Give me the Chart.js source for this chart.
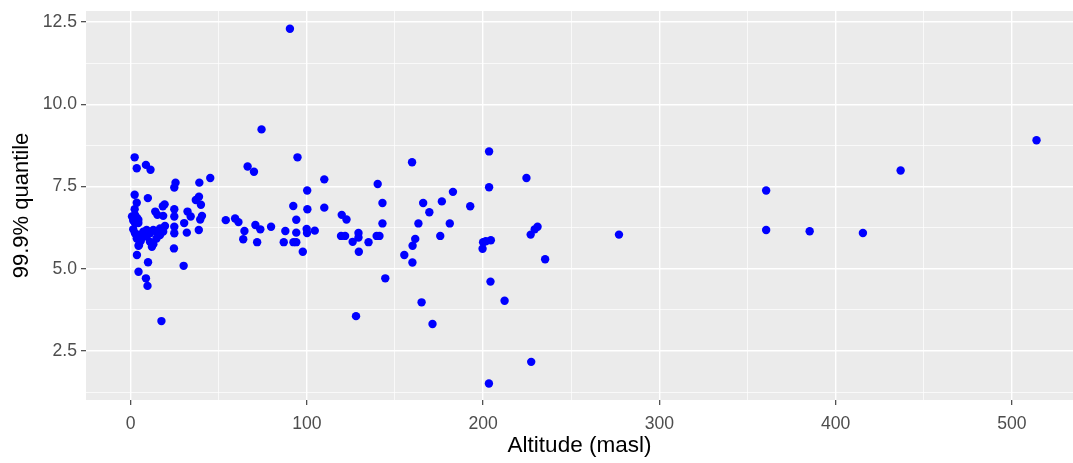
<!DOCTYPE html>
<html>
<head>
<meta charset="utf-8">
<script src="https://cdn.jsdelivr.net/npm/chart.js@4.4.1/dist/chart.umd.min.js"></script>
<style>
    body { margin: 0; background: #ffffff; overflow: hidden; }
    #grafica { display: block; }
</style>
</head>
<body>
<canvas id="grafica" width="1073" height="463"></canvas>
<script>
// altitud (masl) y cuantil 99.9% de cada estacion
var altitud = [
    2.3, 3.5, 8.7, 11.3, 2.3, 9.8, 3.5, 2.3, 19.3, 18.3,
    14, 15.2, 18.5, 0.8, 2.5, 4.4, 2.5, 4.4, 1.5, 3.6,
    1.5, 2.5, 4.4, 3.5, 4.8, 5.8, 7.2, 9.1, 11, 12.9,
    14.7, 16.7, 19.5, 9.1, 11, 12.9, 14.7, 16.7, 18.5, 7.2,
    3.6, 9.9, 4.5, 8.7, 9.6, 17.5, 4.5, 12.1,
    25.5, 24.8, 39, 45.2, 24.8, 24.8, 32.3, 34.1, 38.8, 37,
    39.9, 40.5, 39.5, 30.4, 38.7, 31.9, 24.8, 24.8, 24.6, 30.1,
    54, 59.3, 61.2, 64.6, 63.9, 66.4, 70, 70.8, 73.6, 71.8,
    74.3, 79.7, 87.8, 86.9, 90.4, 92.3, 92.4, 94, 94, 94,
    94.7, 97.7, 99.9, 100.1, 104.5, 100.3, 100.2, 109.9, 109.9,
    119.8, 122.5, 119.4, 121.7, 126, 129.3, 129.3, 129.5, 135, 139.6,
    141.2, 140.2, 142.9, 142.9, 144.5, 127.9,
    159.7, 155.3, 159.9, 160, 161.5, 163.3, 165.1, 166, 169.5, 171.3,
    175.7, 176.6, 181.1, 182.9, 192.7,
    199.7, 200, 201.5, 204.4, 203.4, 203.4, 204.2, 212.2, 203.3, 224.6,
    227, 229.3, 230.9, 227.3, 235.2,
    277.1, 360.6, 360.6, 385.3, 415.5, 436.9, 514
];
var cuantil = [
    8.39, 8.06, 8.16, 8.01, 7.25, 7.15, 7.01, 6.81, 6.96, 6.90,
    6.74, 6.64, 6.61, 6.59, 6.64, 6.49, 6.39, 6.39, 6.47, 6.55,
    6.20, 6.08, 6.03, 5.92, 5.72, 5.85, 6.03, 6.18, 6.08, 6.18,
    6.13, 6.23, 6.30, 5.98, 5.82, 5.75, 5.92, 6.03, 6.13, 6.13,
    5.42, 5.20, 4.91, 4.71, 4.48, 3.41, 5.70, 5.67,
    7.62, 7.47, 7.62, 7.76, 6.81, 6.59, 6.74, 6.59, 7.19, 7.09,
    6.95, 6.61, 6.50, 6.39, 6.18, 6.10, 6.28, 6.08, 5.62, 5.09,
    6.48, 6.53, 6.42, 6.15, 5.90, 8.11, 7.95, 6.33, 6.20, 5.81,
    9.24, 6.28, 6.15, 5.81, 12.30, 6.91, 5.81, 5.81, 6.49, 6.10,
    8.39, 5.52, 6.21, 6.09, 6.16, 6.81, 7.38, 7.72, 6.86,
    6.64, 6.50, 6.00, 6.00, 5.82, 6.09, 5.95, 5.52, 5.81, 6.00,
    6.00, 7.58, 7.00, 6.38, 4.71, 3.56,
    8.24, 5.42, 5.19, 5.70, 5.91, 6.38, 3.98, 7.00, 6.72, 3.32,
    6.00, 7.05, 6.38, 7.34, 6.90,
    5.61, 5.81, 5.84, 5.87, 8.57, 7.48, 4.61, 4.03, 1.51, 7.76,
    6.04, 6.20, 6.28, 2.17, 5.29,
    6.04, 7.38, 6.18, 6.14, 6.09, 7.99, 8.91
];

// marcas de los ejes
var ticksX = [0, 100, 200, 300, 400, 500];
var ticksXMenores = [50, 150, 250, 350, 450];
var ticksY = [2.5, 5.0, 7.5, 10.0, 12.5];
var ticksYMenores = [1.25, 3.75, 6.25, 8.75, 11.25];

function esMayor(lista, valor) {
    for (var i = 0; i < lista.length; i++) {
        if (Math.abs(lista[i] - valor) < 1e-6) return true;
    }
    return false;
}

function listaTicks(mayores, menores) {
    var todos = mayores.concat(menores);
    todos.sort(function (a, b) { return a - b; });
    return todos.map(function (v) { return { value: v }; });
}

var puntos = [];
for (var i = 0; i < altitud.length; i++) {
    puntos.push({ x: altitud[i], y: cuantil[i] });
}

// fondo gris del panel
var fondoPanel = {
    id: 'fondoPanel',
    beforeDraw: function (chart) {
        var a = chart.chartArea;
        var ctx = chart.ctx;
        ctx.save();
        ctx.fillStyle = '#EBEBEB';
        ctx.fillRect(a.left, a.top, a.right - a.left, a.bottom - a.top);
        ctx.restore();
    }
};

function opcionesGrid(mayores) {
    return {
        color: '#FFFFFF',
        lineWidth: function (c) { return esMayor(mayores, c.tick.value) ? 1.4 : 0.7; },
        tickColor: function (c) { return esMayor(mayores, c.tick.value) ? '#333333' : 'rgba(0,0,0,0)'; },
        tickWidth: function (c) { return esMayor(mayores, c.tick.value) ? 1.1 : 0; },
        tickLength: 5
    };
}

// sin relleno extra por las etiquetas de los extremos
function sinRelleno(scale) {
    scale.paddingTop = 0;
    scale.paddingBottom = 0;
    scale.paddingLeft = 0;
    scale.paddingRight = 0;
}

var canvasGrafica = document.getElementById('grafica');
var miGrafica = new Chart(canvasGrafica, {
    type: 'scatter',
    data: {
        datasets: [{
            label: 'cuantil',
            data: puntos,
            backgroundColor: '#0000FF',
            borderWidth: 0,
            pointRadius: 4.2,
            pointHoverRadius: 4.2
        }]
    },
    options: {
        responsive: false,
        animation: false,
        layout: { autoPadding: false, padding: { top: 11, right: 0, bottom: 0, left: 0 } },
        plugins: {
            legend: { display: false },
            tooltip: { enabled: false }
        },
        scales: {
            x: {
                type: 'linear',
                min: -25.3,
                max: 534.7,
                afterBuildTicks: function (scale) {
                    scale.ticks = listaTicks(ticksX, ticksXMenores);
                },
                afterFit: function (scale) {
                    scale.height = 63;
                    sinRelleno(scale);
                },
                grid: opcionesGrid(ticksX),
                border: { display: false },
                ticks: {
                    autoSkip: false,
                    maxRotation: 0,
                    padding: 9,
                    color: '#4D4D4D',
                    font: { family: 'Liberation Sans', size: 17.6 },
                    callback: function (v) { return esMayor(ticksX, v) ? String(v) : ''; }
                },
                title: {
                    display: true,
                    text: 'Altitude (masl)',
                    color: '#000000',
                    padding: { top: 0, bottom: 4 },
                    font: { family: 'Liberation Sans', size: 22.5 }
                }
            },
            y: {
                type: 'linear',
                min: 1.01,
                max: 12.84,
                afterBuildTicks: function (scale) {
                    scale.ticks = listaTicks(ticksY, ticksYMenores);
                },
                afterFit: function (scale) {
                    scale.width = 86;
                    sinRelleno(scale);
                },
                grid: opcionesGrid(ticksY),
                border: { display: false },
                ticks: {
                    autoSkip: false,
                    padding: 4,
                    color: '#4D4D4D',
                    font: { family: 'Liberation Sans', size: 17.6 },
                    callback: function (v) { return esMayor(ticksY, v) ? v.toFixed(1) : ''; }
                },
                title: {
                    display: true,
                    text: '99.9% quantile',
                    color: '#000000',
                    padding: { top: 9, bottom: 0 },
                    font: { family: 'Liberation Sans', size: 22 }
                }
            }
        }
    },
    plugins: [fondoPanel]
});
</script>
</body>
</html>
